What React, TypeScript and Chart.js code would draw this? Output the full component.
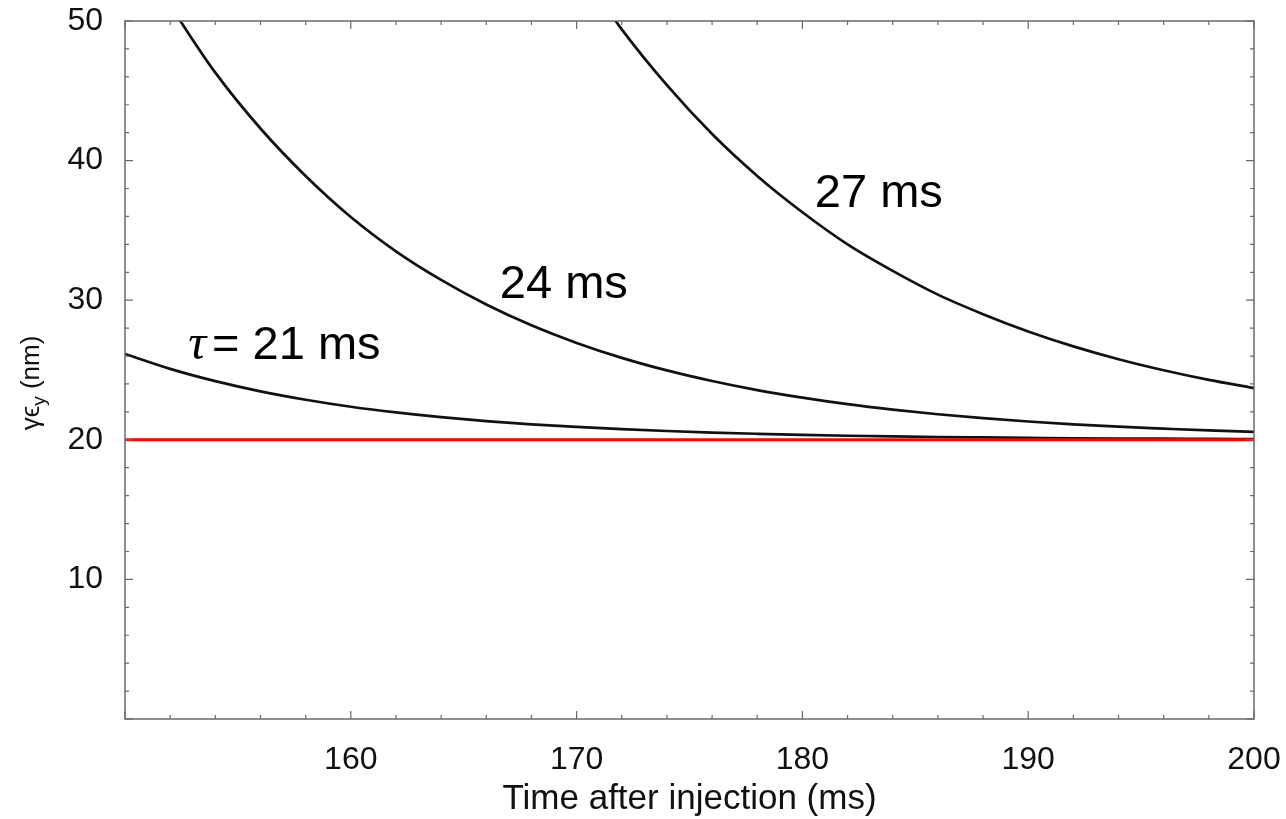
import React, { useEffect, useRef } from "react";
import { Chart, registerables } from "chart.js";

Chart.register(...registerables);

// ---- data ----
const times21 = [150, 152, 154, 156, 158, 160, 162, 164, 166, 168, 170, 172, 174, 176, 178, 180, 182, 184, 186, 188, 190, 192, 194, 196, 198, 200];
const emit21 = [26.15, 25.08, 24.2, 23.47, 22.87, 22.37, 21.96, 21.62, 21.34, 21.11, 20.92, 20.76, 20.63, 20.52, 20.43, 20.35, 20.29, 20.24, 20.2, 20.17, 20.14, 20.11, 20.09, 20.08, 20.06, 20.05];

const times24 = [152, 154, 156, 158, 160, 162, 164, 166, 168, 170, 172, 174, 176, 178, 180, 182, 184, 186, 188, 190, 192, 194, 196, 198, 200];
const emit24 = [51.1, 46.3, 42.3, 38.9, 35.96, 33.5, 31.45, 29.69, 28.2, 26.94, 25.87, 24.97, 24.21, 23.56, 23.02, 22.55, 22.16, 21.83, 21.55, 21.31, 21.11, 20.94, 20.8, 20.67, 20.57];

const times27 = [171, 172, 174, 176, 178, 180, 182, 184, 186, 188, 190, 192, 194, 196, 198, 200];
const emit27 = [51.7, 49.4, 45.4, 41.9, 38.9, 36.3, 34.0, 32.1, 30.4, 29.0, 27.76, 26.69, 25.77, 24.98, 24.29, 23.7];

const refTimes = [150, 200];
const refEmit = [20, 20];

const xTickLabels = [160, 170, 180, 190, 200];
const yTickLabels = [10, 20, 30, 40, 50];

const curveLabels = ["24 ms", "27 ms"];
const curveLabelTimes = [166.6, 180.55];
const curveLabelValues = [30.14, 36.67];
const tauLabelText = "= 21 ms";
const tauLabelTime = 152.8;
const tauLabelValue = 25.77;

const xTitle = "Time after injection (ms)";

const toPoints = (xs: number[], ys: number[]) => xs.map((x, i) => ({ x, y: ys[i] }));

const SANS = '"Liberation Sans", Arial, sans-serif';

const framePlugin = {
  id: "frameTicks",
  afterDatasetsDraw(chart: any) {
    const { ctx, chartArea, scales } = chart;
    const xs = scales.x;
    const ys = scales.y;
    const { left, right, top, bottom } = chartArea;
    ctx.save();
    ctx.strokeStyle = "#6a6a6a";
    ctx.lineWidth = 1.5;
    ctx.beginPath();
    ctx.rect(left, top, right - left, bottom - top);
    ctx.stroke();
    ctx.lineWidth = 1.2;
    ctx.beginPath();
    for (let t = 150; t <= 200; t += 2) {
      const px = xs.getPixelForValue(t);
      const len = t % 10 === 0 ? 8 : 4;
      ctx.moveTo(px, bottom);
      ctx.lineTo(px, bottom - len);
      ctx.moveTo(px, top);
      ctx.lineTo(px, top + len);
    }
    for (let v = 0; v <= 50; v += 2) {
      const py = ys.getPixelForValue(v);
      const len = v % 10 === 0 ? 8 : 4;
      ctx.moveTo(left, py);
      ctx.lineTo(left + len, py);
      ctx.moveTo(right, py);
      ctx.lineTo(right - len, py);
    }
    ctx.stroke();

    // curve labels
    ctx.fillStyle = "#000";
    ctx.textBaseline = "alphabetic";
    ctx.textAlign = "left";
    ctx.font = `47px ${SANS}`;
    curveLabels.forEach((txt, i) => {
      ctx.fillText(txt, xs.getPixelForValue(curveLabelTimes[i]), ys.getPixelForValue(curveLabelValues[i]));
    });
    const tx = xs.getPixelForValue(tauLabelTime);
    const ty = ys.getPixelForValue(tauLabelValue);
    ctx.font = `italic 50px "Liberation Serif", "Times New Roman", serif`;
    ctx.fillText("τ", tx, ty);
    const tw = ctx.measureText("τ").width;
    ctx.font = `47px ${SANS}`;
    ctx.fillText(tauLabelText, tx + tw + 6, ty);

    // x title
    ctx.textAlign = "center";
    ctx.font = `35px ${SANS}`;
    ctx.fillStyle = "#111";
    ctx.fillText(xTitle, (left + right) / 2, 809);

    // y title with subscript
    ctx.translate(31, 383);
    ctx.rotate(-Math.PI / 2);
    ctx.textAlign = "left";
    const mainFont = `26px ${SANS}`;
    const subFont = `19px ${SANS}`;
    ctx.font = mainFont;
    const w1 = ctx.measureText("γϵ").width;
    ctx.font = subFont;
    const w2 = ctx.measureText("y").width;
    ctx.font = mainFont;
    const w3 = ctx.measureText(" (nm)").width;
    const total = w1 + w2 + w3;
    let cx = -total / 2;
    ctx.fillText("γϵ", cx, 8);
    cx += w1;
    ctx.font = subFont;
    ctx.fillText("y", cx, 14);
    cx += w2;
    ctx.font = mainFont;
    ctx.fillText(" (nm)", cx, 8);
    ctx.restore();
  },
};

export default function App() {
  const ref = useRef<HTMLCanvasElement | null>(null);
  useEffect(() => {
    if (!ref.current) return;
    const chart = new Chart(ref.current, {
      type: "line",
      data: {
        datasets: [
          {
            label: "reference",
            data: toPoints(refTimes, refEmit),
            borderColor: "#ff0000",
            borderWidth: 3,
            pointRadius: 0,
          },
          {
            label: "21 ms",
            data: toPoints(times21, emit21),
            borderColor: "#111111",
            borderWidth: 2.7,
            pointRadius: 0,
            cubicInterpolationMode: "monotone",
          },
          {
            label: "24 ms",
            data: toPoints(times24, emit24),
            borderColor: "#111111",
            borderWidth: 2.7,
            pointRadius: 0,
            cubicInterpolationMode: "monotone",
          },
          {
            label: "27 ms",
            data: toPoints(times27, emit27),
            borderColor: "#111111",
            borderWidth: 2.7,
            pointRadius: 0,
            cubicInterpolationMode: "monotone",
          },
        ],
      },
      options: {
        responsive: false,
        animation: false,
        layout: { autoPadding: false, padding: { top: 21, right: 32, left: 0, bottom: 0 } },
        plugins: { legend: { display: false }, tooltip: { enabled: false } },
        scales: {
          x: {
            type: "linear",
            min: 150,
            max: 200,
            grid: { display: false },
            border: { display: false },
            afterFit: (s: any) => {
              s.height = 100;
              s.paddingLeft = 0;
              s.paddingRight = 0;
              s.paddingTop = 0;
              s.paddingBottom = 0;
            },
            afterBuildTicks: (s: any) => {
              s.ticks = xTickLabels.map((v) => ({ value: v }));
            },
            ticks: {
              padding: 14,
              color: "#111",
              maxRotation: 0,
              font: { family: SANS, size: 32 },
              callback: (v: any) => String(v),
            },
          },
          y: {
            type: "linear",
            min: 0,
            max: 50,
            grid: { display: false },
            border: { display: false },
            afterFit: (s: any) => {
              s.width = 125;
              s.paddingLeft = 0;
              s.paddingRight = 0;
              s.paddingTop = 0;
              s.paddingBottom = 0;
            },
            afterBuildTicks: (s: any) => {
              s.ticks = yTickLabels.map((v) => ({ value: v }));
            },
            ticks: {
              padding: 14,
              color: "#111",
              font: { family: SANS, size: 32 },
              callback: (v: any) => String(v),
            },
          },
        },
      },
      plugins: [framePlugin],
    } as any);
    return () => chart.destroy();
  }, []);
  return (
    <div style={{ position: "fixed", left: 0, top: 0, width: 1286, height: 819, background: "#fff" }}>
      <canvas ref={ref} width={1286} height={819} style={{ display: "block" }} />
    </div>
  );
}
